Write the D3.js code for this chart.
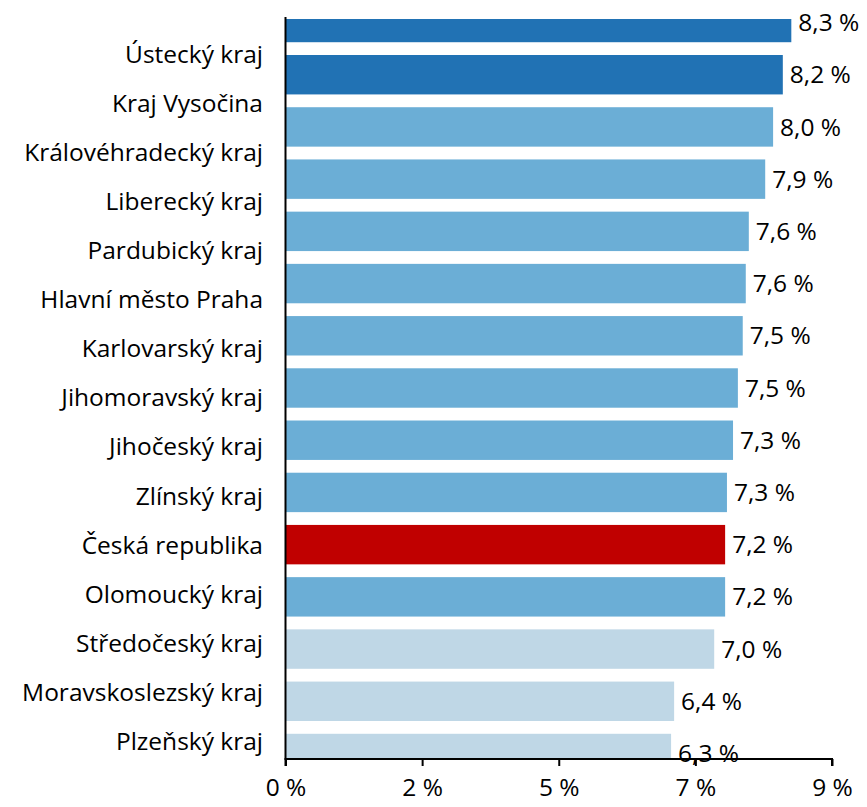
<!DOCTYPE html>
<html>
<head>
<meta charset="utf-8">
<script src="https://cdn.jsdelivr.net/npm/d3@7"></script>
<style>
  html, body { margin: 0; padding: 0; background: #fff; }
  svg text { font-family: "Open Sans", "Noto Sans", sans-serif; fill: #000; }
</style>
</head>
<body>
<svg id="chart" width="867" height="807"></svg>
<script>
const categories = ["Ústecký kraj", "Kraj Vysočina", "Královéhradecký kraj", "Liberecký kraj",
  "Pardubický kraj", "Hlavní město Praha", "Karlovarský kraj", "Jihomoravský kraj",
  "Jihočeský kraj", "Zlínský kraj", "Česká republika", "Olomoucký kraj",
  "Středočeský kraj", "Moravskoslezský kraj", "Plzeňský kraj"];
const values = [8.33, 8.19, 8.03, 7.90, 7.63, 7.58, 7.53, 7.45, 7.37, 7.27, 7.24, 7.24, 7.06, 6.40, 6.35];
const valueLabels = ["8,3 %", "8,2 %", "8,0 %", "7,9 %", "7,6 %", "7,6 %", "7,5 %", "7,5 %",
  "7,3 %", "7,3 %", "7,2 %", "7,2 %", "7,0 %", "6,4 %", "6,3 %"];
const groups = ["top", "top", "mid", "mid", "mid", "mid", "mid", "mid", "mid", "mid", "cr", "mid", "low", "low", "low"];
const tickValues = [0, 2.25, 4.5, 6.75, 9];
const tickLabels = ["0 %", "2 %", "5 %", "7 %", "9 %"];

const colors = { top: "#2172b4", mid: "#6baed6", cr: "#c00000", low: "#bfd7e6" };

const svg = d3.select("#chart");
const plotTop = 17, plotBottom = 759;
const FS = 24.5;
const x = d3.scaleLinear().domain([0, 9]).range([285.5, 832]);
const y = d3.scaleBand().domain(categories).range([-10, 786]).paddingInner(0.245).paddingOuter(0.245);
const yLab = d3.scalePoint().domain(categories).range([54, 741.5]);

svg.append("defs").append("clipPath").attr("id", "plotclip")
  .append("rect").attr("x", x(0)).attr("y", 19).attr("width", 600).attr("height", plotBottom - 19);

const data = categories.map((c, i) => ({ c, v: values[i], g: groups[i], l: valueLabels[i] }));

svg.append("g").attr("clip-path", "url(#plotclip)")
  .selectAll("rect").data(data).join("rect")
  .attr("x", x(0))
  .attr("y", d => y(d.c))
  .attr("width", d => x(d.v) - x(0))
  .attr("height", y.bandwidth())
  .attr("fill", d => colors[d.g]);

svg.append("g").selectAll("text").data(data).join("text")
  .attr("x", d => x(d.v) + 7)
  .attr("y", d => y(d.c) + y.bandwidth() / 2)
  .attr("dy", "0.35em")
  .attr("font-size", FS)
  .text(d => d.l);

svg.append("g").selectAll("text").data(data).join("text")
  .attr("x", 263)
  .attr("y", d => yLab(d.c))
  .attr("dy", "0.35em")
  .attr("text-anchor", "end")
  .attr("font-size", FS)
  .text(d => d.c);

// y axis line
svg.append("line").attr("x1", x(0)).attr("x2", x(0)).attr("y1", plotTop).attr("y2", plotBottom + 1)
  .attr("stroke", "#000").attr("stroke-width", 2);

const xAxis = d3.axisBottom(x).tickValues(tickValues).tickSize(7).tickPadding(13)
  .tickFormat((d, i) => tickLabels[i]);
const gx = svg.append("g").attr("transform", `translate(0,${plotBottom})`).call(xAxis);
gx.select(".domain").attr("stroke", "#000").attr("stroke-width", 2).attr("d", `M${x(0)},7V0H${x(9)}V7`);
gx.selectAll(".tick line").attr("stroke", "#000").attr("stroke-width", 2);
gx.selectAll(".tick text").attr("font-size", FS).attr("font-family", '"Open Sans", sans-serif').attr("fill", "#000");
</script>
</body>
</html>
